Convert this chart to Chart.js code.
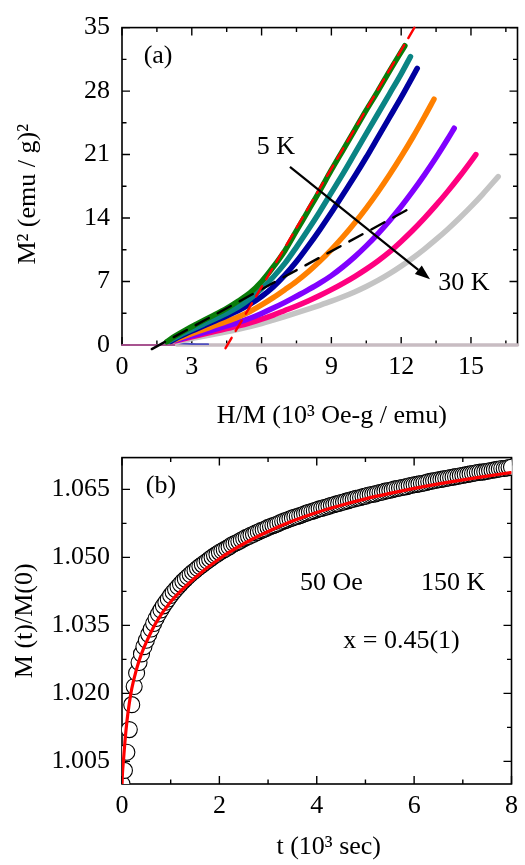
<!DOCTYPE html>
<html>
<head>
<meta charset="utf-8">
<title>M2 vs H/M and relaxation</title>
<script src="https://cdn.jsdelivr.net/npm/chart.js@4/dist/chart.umd.min.js"></script>
<style>
  html, body { margin: 0; padding: 0; background: #fff; }
  #wrap { position: relative; width: 525px; height: 865px; }
  #chartA { position: absolute; left: 0; top: 0; }
  #chartB { position: absolute; left: 0; top: 430px; }
</style>
</head>
<body>
<div id="wrap">
  <canvas id="chartA" width="525" height="430"></canvas>
  <canvas id="chartB" width="525" height="435"></canvas>
</div>
<script>
// ---- panel (a): M^2 vs H/M isotherms, 5 K ... 30 K ----
const hmGreen = [1.92, 2.3, 2.8, 3.2, 3.8, 4.5, 5.0, 5.5, 6.0, 6.5, 7.0, 7.5, 8.0, 8.5, 9.0, 9.5, 10.0, 10.5, 11.0, 11.5, 12.16];
const m2Green = [0.35, 1.0, 1.75, 2.3, 3.1, 4.05, 4.85, 5.75, 7.0, 8.6, 10.4, 12.6, 14.8, 17.0, 19.3, 21.5, 23.7, 25.9, 28.0, 30.2, 33.0];

const hmTeal = [2.0, 2.5, 3.0, 3.5, 4.0, 4.5, 5.0, 5.5, 6.0, 6.5, 7.0, 7.5, 8.0, 8.5, 9.0, 9.5, 10.0, 10.5, 11.0, 11.5, 12.0, 12.4];
const m2Teal = [0.4, 1.1, 1.7, 2.3, 2.9, 3.5, 4.2, 5.1, 6.2, 7.5, 9.0, 10.8, 12.7, 14.7, 16.8, 18.9, 21.1, 23.3, 25.5, 27.7, 29.9, 31.8];

const hmNavy = [2.1, 2.5, 3.0, 3.5, 4.0, 4.5, 5.0, 5.5, 6.0, 6.5, 7.0, 7.5, 8.0, 8.5, 9.0, 9.5, 10.0, 10.5, 11.0, 11.5, 12.0, 12.69];
const m2Navy = [0.4, 0.95, 1.55, 2.1, 2.65, 3.2, 3.8, 4.5, 5.35, 6.4, 7.7, 9.2, 10.9, 12.7, 14.6, 16.6, 18.6, 20.7, 22.9, 25.1, 27.3, 30.5];

const hmOrange = [2.1, 2.5, 3.0, 3.5, 4.0, 4.5, 5.0, 5.5, 6.0, 6.5, 7.0, 7.5, 8.0, 8.5, 9.0, 9.5, 10.0, 10.5, 11.0, 11.5, 12.0, 12.5, 13.0, 13.41];
const m2Orange = [0.4, 0.78, 1.25, 1.7, 2.15, 2.6, 3.1, 3.7, 4.42, 5.22, 6.1, 7.02, 8.06, 9.23, 10.52, 11.93, 13.46, 15.1, 16.87, 18.77, 20.78, 22.91, 25.17, 27.1];

const hmPurple = [2.2, 3.0, 3.5, 4.0, 4.5, 5.0, 5.5, 6.0, 6.5, 7.0, 7.5, 8.0, 8.5, 9.0, 9.5, 10.0, 10.5, 11.0, 11.5, 12.0, 12.5, 13.0, 13.5, 14.0, 14.28];
const m2Purple = [0.45, 1.0, 1.36, 1.72, 2.1, 2.5, 2.95, 3.48, 4.07, 4.7, 5.38, 6.08, 6.82, 7.65, 8.63, 9.72, 10.93, 12.26, 13.71, 15.27, 16.96, 18.76, 20.67, 22.71, 23.9];

const hmPink = [2.3, 3.0, 3.5, 4.0, 4.5, 5.0, 5.5, 6.0, 6.5, 7.0, 7.5, 8.0, 8.5, 9.0, 9.5, 10.0, 10.5, 11.0, 11.5, 12.0, 12.5, 13.0, 13.5, 14.0, 14.5, 15.0, 15.21];
const m2Pink = [0.45, 0.9, 1.2, 1.5, 1.8, 2.1, 2.45, 2.85, 3.3, 3.8, 4.3, 4.85, 5.45, 6.1, 6.8, 7.55, 8.37, 9.27, 10.27, 11.42, 12.65, 13.99, 15.42, 16.94, 18.55, 20.26, 21.0];

const hmGray = [2.35, 3.0, 3.5, 4.0, 4.5, 5.0, 5.5, 6.0, 6.5, 7.0, 7.5, 8.0, 8.5, 9.0, 9.5, 10.0, 10.5, 11.0, 11.5, 12.0, 12.5, 13.0, 13.5, 14.0, 14.5, 15.0, 15.5, 16.17];
const m2Gray = [0.35, 0.72, 0.96, 1.2, 1.45, 1.72, 2.02, 2.36, 2.74, 3.13, 3.53, 3.95, 4.38, 4.83, 5.32, 5.85, 6.45, 7.12, 7.87, 8.7, 9.6, 10.58, 11.64, 12.77, 13.98, 15.26, 16.62, 18.57];

// low-field points lying on M^2 = 0
const hmLowGray = [2.35, 17.0];
const m2LowGray = [0, 0];
const hmLowPink = [0, 17.0];
const m2LowPink = [0, 0];
const hmLowBlue = [2.4, 3.0, 3.7];
const m2LowBlue = [0.2, 0.12, 0.08];

// straight-line guides
const hmRedFit = [4.45, 12.57];
const m2RedFit = [-0.35, 35.0];
const hmBlackFit = [1.28, 12.4];
const m2BlackFit = [-0.45, 15.1];

const xTicksA = [0, 3, 6, 9, 12, 15];
const xMinorA = [1.5, 4.5, 7.5, 10.5, 13.5, 16.5];
const yTicksA = [0, 7, 14, 21, 28, 35];
const yMinorA = [3.5, 10.5, 17.5, 24.5, 31.5];

// ---- panel (b): relaxation M(t)/M(0) at 150 K, 50 Oe ----
const timeB = [0, 0.05, 0.1, 0.15, 0.2, 0.25, 0.3, 0.35, 0.4, 0.45, 0.5, 0.55, 0.6, 0.65, 0.7, 0.75, 0.8, 0.85, 0.9, 0.95,
  1.0, 1.05, 1.1, 1.15, 1.2, 1.25, 1.3, 1.35, 1.4, 1.45, 1.5, 1.55, 1.6, 1.65, 1.7, 1.75, 1.8, 1.85, 1.9, 1.95,
  2.0, 2.05, 2.1, 2.15, 2.2, 2.25, 2.3, 2.35, 2.4, 2.45, 2.5, 2.55, 2.6, 2.65, 2.7, 2.75, 2.8, 2.85, 2.9, 2.95,
  3.0, 3.05, 3.1, 3.15, 3.2, 3.25, 3.3, 3.35, 3.4, 3.45, 3.5, 3.55, 3.6, 3.65, 3.7, 3.75, 3.8, 3.85, 3.9, 3.95,
  4.0, 4.05, 4.1, 4.15, 4.2, 4.25, 4.3, 4.35, 4.4, 4.45, 4.5, 4.55, 4.6, 4.65, 4.7, 4.75, 4.8, 4.85, 4.9, 4.95,
  5.0, 5.05, 5.1, 5.15, 5.2, 5.25, 5.3, 5.35, 5.4, 5.45, 5.5, 5.55, 5.6, 5.65, 5.7, 5.75, 5.8, 5.85, 5.9, 5.95,
  6.0, 6.05, 6.1, 6.15, 6.2, 6.25, 6.3, 6.35, 6.4, 6.45, 6.5, 6.55, 6.6, 6.65, 6.7, 6.75, 6.8, 6.85, 6.9, 6.95,
  7.0, 7.05, 7.1, 7.15, 7.2, 7.25, 7.3, 7.35, 7.4, 7.45, 7.5, 7.55, 7.6, 7.65, 7.7, 7.75, 7.8, 7.85, 7.9, 7.95, 8.0];
const ratioB = [1.0000, 1.0030, 1.0070, 1.0120, 1.0175, 1.0215, 1.0245, 1.0268, 1.0287, 1.0303, 1.0317, 1.0330, 1.0342, 1.0354, 1.0365, 1.0375, 1.0384, 1.0393, 1.0401, 1.0408,
  1.0416, 1.0423, 1.0429, 1.0435, 1.0441, 1.0447, 1.0452, 1.0457, 1.0462, 1.0467, 1.0471, 1.0476, 1.0480, 1.0484, 1.0488, 1.0492, 1.0496, 1.0500, 1.0504, 1.0507,
  1.0511, 1.0514, 1.0517, 1.0520, 1.0523, 1.0527, 1.0530, 1.0532, 1.0535, 1.0538, 1.0541, 1.0544, 1.0546, 1.0549, 1.0551, 1.0554, 1.0556, 1.0559, 1.0561, 1.0563,
  1.0566, 1.0568, 1.0570, 1.0572, 1.0574, 1.0577, 1.0579, 1.0581, 1.0583, 1.0585, 1.0587, 1.0589, 1.0590, 1.0592, 1.0594, 1.0596, 1.0598, 1.0600, 1.0601, 1.0603,
  1.0605, 1.0607, 1.0608, 1.0610, 1.0611, 1.0613, 1.0615, 1.0616, 1.0618, 1.0619, 1.0621, 1.0622, 1.0624, 1.0625, 1.0627, 1.0628, 1.0630, 1.0631, 1.0632, 1.0634,
  1.0635, 1.0637, 1.0638, 1.0639, 1.0640, 1.0642, 1.0643, 1.0644, 1.0646, 1.0647, 1.0648, 1.0649, 1.0651, 1.0652, 1.0653, 1.0654, 1.0655, 1.0656, 1.0658, 1.0659,
  1.0660, 1.0661, 1.0662, 1.0663, 1.0664, 1.0665, 1.0667, 1.0668, 1.0669, 1.0670, 1.0671, 1.0672, 1.0673, 1.0674, 1.0675, 1.0676, 1.0677, 1.0678, 1.0679, 1.0680,
  1.0681, 1.0682, 1.0683, 1.0684, 1.0685, 1.0686, 1.0687, 1.0688, 1.0688, 1.0689, 1.0690, 1.0691, 1.0692, 1.0693, 1.0694, 1.0695, 1.0696, 1.0696, 1.0697, 1.0698, 1.0699];

const fitT = [0, 0.01, 0.03, 0.06, 0.1, 0.15, 0.2, 0.3, 0.4, 0.5, 0.7, 1.0, 1.5, 2.0, 2.5, 3.0, 3.5, 4.0, 4.5, 5.0, 5.5, 6.0, 6.5, 7.0, 7.5, 7.98];
const fitY = [0.9998, 1.0025, 1.0052, 1.0093, 1.0137, 1.0178, 1.0210, 1.0254, 1.0287, 1.0313, 1.0356, 1.0402, 1.0455, 1.0497, 1.0530, 1.0557, 1.0580, 1.0599, 1.0615, 1.0629, 1.0641, 1.0652, 1.0662, 1.0671, 1.0679, 1.0687];

const xTicksB = [0, 2, 4, 6, 8];
const xMinorB = [1, 3, 5, 7];
const yTicksB = [1.005, 1.020, 1.035, 1.050, 1.065];
const yMinorB = [1.0125, 1.0275, 1.0425, 1.0575];

const FONT = '"Liberation Serif", "Times New Roman", serif';
Chart.defaults.font.family = FONT;
Chart.defaults.color = '#000';

function pts(xs, ys) {
  return xs.map((x, i) => ({ x: x, y: ys[i] }));
}

// box with inward ticks on all four sides
const frameTicks = {
  id: 'frameTicks',
  beforeDatasetsDraw(chart, args, opts) {
    const { ctx, chartArea: a, scales: { x, y } } = chart;
    ctx.save();
    ctx.strokeStyle = '#000';
    ctx.lineWidth = 1.6;
    ctx.strokeRect(a.left, a.top, a.right - a.left, a.bottom - a.top);
    ctx.lineWidth = 1.4;
    ctx.beginPath();
    const vTick = (v, len) => {
      const px = x.getPixelForValue(v);
      ctx.moveTo(px, a.bottom); ctx.lineTo(px, a.bottom - len);
      ctx.moveTo(px, a.top); ctx.lineTo(px, a.top + len);
    };
    const hTick = (v, len) => {
      const py = y.getPixelForValue(v);
      ctx.moveTo(a.left, py); ctx.lineTo(a.left + len, py);
      ctx.moveTo(a.right, py); ctx.lineTo(a.right - len, py);
    };
    opts.xMajor.forEach(v => vTick(v, 8));
    opts.xMinor.forEach(v => vTick(v, 4.5));
    opts.yMajor.forEach(v => hTick(v, 8));
    opts.yMinor.forEach(v => hTick(v, 4.5));
    ctx.stroke();
    ctx.restore();
  }
};

// axis titles, text labels and arrow
const notes = {
  id: 'notes',
  afterDatasetsDraw(chart, args, opts) {
    const { ctx, chartArea: a, scales: { x, y } } = chart;
    ctx.save();
    ctx.fillStyle = '#000';
    ctx.font = '26px ' + FONT;
    ctx.textAlign = 'center';
    ctx.textBaseline = 'middle';
    // axis titles: offset from the plot box
    const xt = opts.xTitle, yt = opts.yTitle;
    ctx.fillText(xt.text, (a.left + a.right) / 2 + xt.shift, a.bottom + xt.gap);
    ctx.save();
    ctx.translate(yt.x, (a.top + a.bottom) / 2 + yt.shift);
    ctx.rotate(-Math.PI / 2);
    ctx.fillText(yt.text, 0, 0);
    ctx.restore();
    (opts.texts || []).forEach(t => {
      ctx.fillText(t.text, x.getPixelForValue(t.x), y.getPixelForValue(t.y));
    });
    if (opts.arrow) {
      const x0 = x.getPixelForValue(opts.arrow.from[0]), y0 = y.getPixelForValue(opts.arrow.from[1]);
      const x1 = x.getPixelForValue(opts.arrow.to[0]), y1 = y.getPixelForValue(opts.arrow.to[1]);
      const ang = Math.atan2(y1 - y0, x1 - x0);
      const hl = 15, hw = 5.5;
      ctx.strokeStyle = '#000';
      ctx.lineWidth = 2.2;
      ctx.beginPath();
      ctx.moveTo(x0, y0);
      ctx.lineTo(x1 - hl * Math.cos(ang), y1 - hl * Math.sin(ang));
      ctx.stroke();
      ctx.beginPath();
      ctx.moveTo(x1, y1);
      ctx.lineTo(x1 - hl * Math.cos(ang) + hw * Math.sin(ang), y1 - hl * Math.sin(ang) - hw * Math.cos(ang));
      ctx.lineTo(x1 - hl * Math.cos(ang) - hw * Math.sin(ang), y1 - hl * Math.sin(ang) + hw * Math.cos(ang));
      ctx.closePath();
      ctx.fill();
    }
    ctx.restore();
  }
};

const tickFont = { family: FONT, size: 26 };

function curve(xs, ys, color, width, extra) {
  return Object.assign({
    data: pts(xs, ys),
    showLine: true,
    borderColor: color,
    borderWidth: width,
    borderCapStyle: 'round',
    borderJoinStyle: 'round',
    pointRadius: 0,
    cubicInterpolationMode: 'monotone',
    fill: false
  }, extra || {});
}

function axis(min, max, ticks, size, fmt, pad) {
  return {
    type: 'linear',
    min: min,
    max: max,
    afterBuildTicks: s => { s.ticks = ticks.map(v => ({ value: v })); },
    afterFit: s => { if (s.isHorizontal()) s.height = size; else s.width = size; },
    grid: { display: false, drawTicks: false },
    border: { display: false },
    ticks: { font: tickFont, color: '#000', padding: pad, maxRotation: 0, autoSkip: false, callback: fmt },
    title: { display: false }
  };
}

// ---- chart (a) ----
new Chart(document.getElementById('chartA'), {
  type: 'scatter',
  data: {
    datasets: [
      curve(hmRedFit, m2RedFit, '#ff0000', 2.4, { borderDash: [12, 8], cubicInterpolationMode: 'default', clip: false }),
      curve(hmBlackFit, m2BlackFit, '#000000', 2.4, { borderDash: [15, 10], cubicInterpolationMode: 'default', clip: false }),
      curve(hmGreen, m2Green, '#0a7d0a', 5.5),
      curve(hmTeal, m2Teal, '#0a8484', 5.5),
      curve(hmNavy, m2Navy, '#0000a0', 5.5),
      curve(hmOrange, m2Orange, '#ff8000', 5.5),
      curve(hmPurple, m2Purple, '#8000ff', 5.5),
      curve(hmPink, m2Pink, '#ff0080', 5.5),
      curve(hmGray, m2Gray, '#c4c4c4', 5.5),
      curve(hmLowBlue, m2LowBlue, '#5050c0', 2),
      curve(hmLowGray, m2LowGray, '#c8bcc2', 3.5, { cubicInterpolationMode: 'default', clip: false }),
      curve(hmLowPink, m2LowPink, '#d060b0', 1.6, { cubicInterpolationMode: 'default', clip: false })
    ]
  },
  options: {
    responsive: false,
    animation: false,
    events: [],
    layout: { padding: { top: 12.5, right: 7.5, left: 0, bottom: 0 } },
    scales: {
      x: axis(0, 17, xTicksA, 85, v => String(v), 7),
      y: axis(0, 35, yTicksA, 122, v => String(v), 12)
    },
    plugins: {
      legend: { display: false },
      tooltip: { enabled: false },
      frameTicks: { xMajor: xTicksA, xMinor: xMinorA, yMajor: yTicksA, yMinor: yMinorA },
      notes: {
        xTitle: { text: 'H/M (10³ Oe-g / emu)', shift: 12, gap: 71 },
        yTitle: { text: 'M² (emu / g)²', x: 28, shift: 8 },
        texts: [
          { text: '(a)', x: 1.55, y: 31.8 },
          { text: '5 K', x: 6.61, y: 21.8 },
          { text: '30 K', x: 14.7, y: 6.84 }
        ],
        arrow: { from: [7.22, 19.65], to: [13.24, 7.26] }
      }
    }
  },
  plugins: [frameTicks, notes]
});

// ---- chart (b) ----
new Chart(document.getElementById('chartB'), {
  type: 'scatter',
  data: {
    datasets: [
      curve(fitT, fitY, '#ff0000', 3.2),
      {
        data: pts(timeB, ratioB),
        showLine: false,
        pointStyle: 'circle',
        pointRadius: 8,
        pointBorderWidth: 1.1,
        pointBorderColor: '#000',
        pointBackgroundColor: '#fff'
      }
    ]
  },
  options: {
    responsive: false,
    animation: false,
    events: [],
    layout: { padding: { top: 19, right: 7.5, left: 0, bottom: 0 } },
    scales: {
      x: axis(0, 8, xTicksB, 81, v => String(v), 7),
      y: axis(1.0, 1.072, yTicksB, 122, v => v.toFixed(3), 12)
    },
    plugins: {
      legend: { display: false },
      tooltip: { enabled: false },
      frameTicks: { xMajor: xTicksB, xMinor: xMinorB, yMajor: yTicksB, yMinor: yMinorB },
      notes: {
        xTitle: { text: 't (10³ sec)', shift: 12, gap: 63 },
        yTitle: { text: 'M (t)/M(0)', x: 25, shift: 0 },
        texts: [
          { text: '(b)', x: 0.8, y: 1.0657 },
          { text: '50 Oe', x: 4.3, y: 1.0443 },
          { text: '150 K', x: 6.8, y: 1.0443 },
          { text: 'x = 0.45(1)', x: 5.74, y: 1.0314 }
        ]
      }
    }
  },
  plugins: [frameTicks, notes]
});
</script>
</body>
</html>
